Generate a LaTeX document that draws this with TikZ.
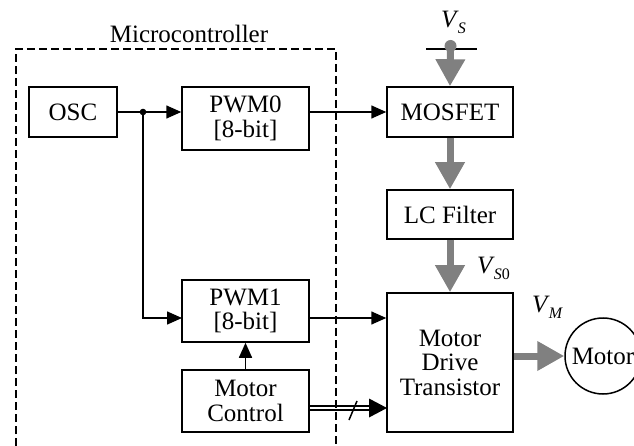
\documentclass[tikz,border=0pt]{standalone}
\usepackage{fontspec}
\setmainfont{Liberation Serif}
\usetikzlibrary{arrows.meta}
\newcommand{\vlab}[1]{\textit{V}\kern-1pt\raisebox{-6pt}{\fontsize{16}{16}\selectfont #1}}
\begin{document}
\begin{tikzpicture}[x=1pt,y=-1pt,
  every node/.style={font=\fontsize{25pt}{24.5pt}\selectfont},
  blk/.style={draw, line width=1.5pt, inner sep=0pt, align=center},
  conn/.style={line width=1.5pt},
  arr/.style={conn, -{Triangle[length=15pt,width=13pt]}},
  garrow/.style={draw=gray, line width=7pt, -{Triangle[length=27pt,width=28pt]}}]
\clip (0,0) rectangle (634,446);
% microcontroller frame
\draw[conn, dash pattern=on 8pt off 4pt] (16,470) -- (16,49) -- (336,49) -- (336,470);
\node[anchor=base] (mclabel) at (189,43) {Microcontroller};
% blocks
\node[blk, minimum width=88pt, minimum height=50pt] (osc) at (73,112) {OSC};
\node[blk, minimum width=127pt, minimum height=63pt] (pwm0) at (245.5,118.5) {PWM0\\{[8-bit]}};
\node[blk, minimum width=127pt, minimum height=62pt] (pwm1) at (245.5,311) {PWM1\\{[8-bit]}};
\node[blk, minimum width=127pt, minimum height=62pt] (mc) at (245.5,401) {Motor\\Control};
\node[blk, minimum width=126pt, minimum height=50pt] (mosfet) at (450,112) {MOSFET};
\node[blk, minimum width=126pt, minimum height=49pt] (lc) at (450,214.5) {LC Filter};
\node[blk, minimum width=126pt, minimum height=139pt] (mdt) at (450,362.5) {Motor\\Drive\\Transistor};
\node[draw, circle, line width=1.5pt, minimum size=76pt, inner sep=0pt] (motor) at (603,356) {Motor};
% coordinates
\coordinate (j) at (143,112);
\coordinate (pwm1in) at (182,318);
\coordinate (mcout) at (309,408);
\coordinate (mdtin) at (387,408);
\coordinate (mdtpre) at (369,408);
\coordinate (vsl) at (426,49);
\coordinate (vsr) at (477,49);
\coordinate (vsdot) at (450.5,46);
% black connectors
\draw[conn] (osc.east) -- (j);
\draw[arr] (j) -- (pwm0.west |- j);
\fill (j) circle (3.3pt);
\draw[arr] (j) |- (pwm1in);
\draw[arr] (pwm0.east |- mosfet) -- (mosfet.west);
\draw[arr] (pwm1.east |- pwm1in) -- (mdt.west |- pwm1in);
\draw[arr] (mc.north) -- (pwm1.south);
% double bus
\draw[line width=1.6pt] ([yshift=-2.2pt]mcout) -- ([yshift=-2.2pt]mdtpre);
\draw[line width=1.6pt] ([yshift=2.2pt]mcout) -- ([yshift=2.2pt]mdtpre);
\fill (mdtin) -- ([xshift=-18pt,yshift=-9.5pt]mdtin) -- ([xshift=-18pt,yshift=9.5pt]mdtin) -- cycle;
\draw[line width=1.5pt] (349,420) -- (357,401);
% supply
\draw[conn] (vsl) -- (vsr);
\fill[gray] (vsdot) circle (6pt);
\draw[garrow] (vsdot) -- (mosfet.north);
\draw[garrow] (mosfet.south) -- (lc.north);
\draw[garrow] (lc.south) -- (mdt.north);
\draw[garrow] (mdt.east |- motor) -- (motor.west);
% labels
\node[anchor=base west, inner sep=0pt] (vs) at (441,28) {\vlab{\textit{S}}};
\node[anchor=base west, inner sep=0pt] (vs0) at (477,273) {\vlab{\textit{S}0}};
\node[anchor=base west, inner sep=0pt] (vm) at (532,312) {\vlab{\textit{M}}};
\end{tikzpicture}
\end{document}
